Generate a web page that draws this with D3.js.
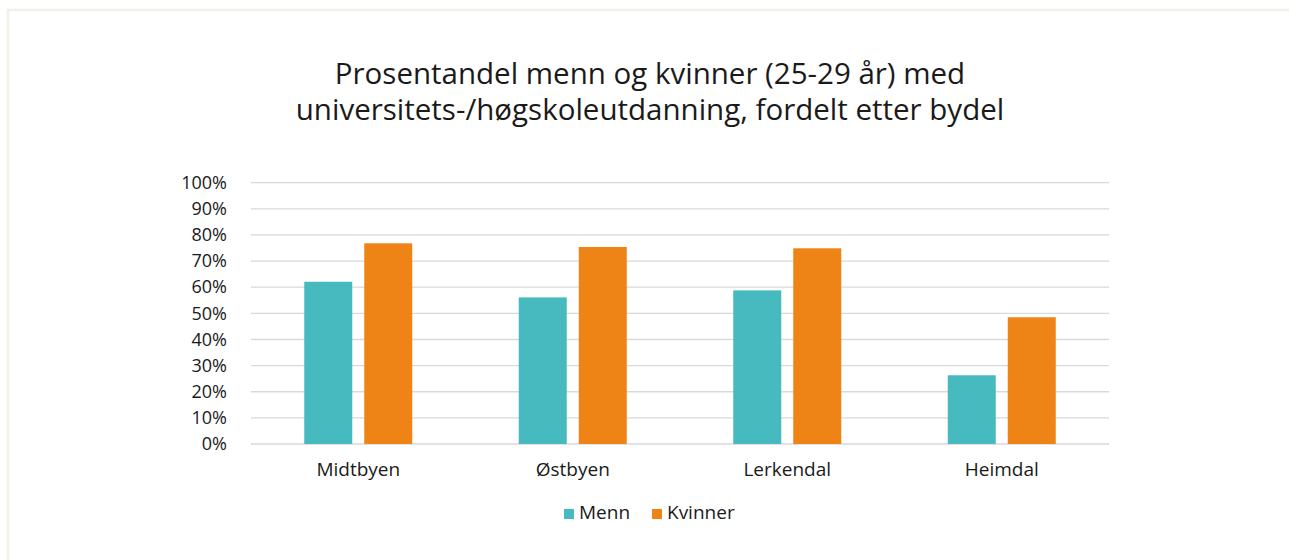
<!DOCTYPE html>
<html>
<head>
<meta charset="utf-8">
<script src="https://cdn.jsdelivr.net/npm/d3@7"></script>
<style>
  html, body { margin: 0; padding: 0; background: #fff; }
  svg { display: block; font-family: "Open Sans", sans-serif; }
</style>
</head>
<body>
<svg id="chart" width="1289" height="560"></svg>
<script>
const categories = ["Midtbyen", "Østbyen", "Lerkendal", "Heimdal"];
const seriesNames = ["Menn", "Kvinner"];
const menn = [62.1, 56.1, 58.8, 26.3];
const kvinner = [76.8, 75.4, 74.9, 48.5];
const yTicks = [0, 10, 20, 30, 40, 50, 60, 70, 80, 90, 100];
const colors = ["#47BABF", "#EE8316"];
const titleLines = ["Prosentandel menn og kvinner (25-29 år) med", "universitets-/høgskoleutdanning, fordelt etter bydel"];

const svg = d3.select("#chart");

// outer border
svg.append("rect").attr("x", 8).attr("y", 10).attr("width", 1290).attr("height", 560)
  .attr("fill", "#fff").attr("stroke", "#f3f0ea").attr("stroke-width", 2.5);

const plotLeft = 251, plotRight = 1109, plotTop = 182.7, plotBottom = 444;

const x = d3.scaleBand().domain(categories).range([plotLeft, plotRight]);
const x1 = d3.scaleBand().domain(seriesNames).range([0, 108]).paddingInner(0.2);
const y = d3.scaleLinear().domain([0, 100]).range([plotBottom, plotTop]);

// title
svg.append("text").attr("x", 650).attr("text-anchor", "middle")
  .attr("font-size", 29.5).attr("fill", "#1a1a1a")
  .selectAll("tspan").data(titleLines).join("tspan")
  .attr("x", 650).attr("y", (d, i) => 84 + i * 36).text(d => d);

// gridlines
svg.append("g").selectAll("line").data(yTicks).join("line")
  .attr("x1", plotLeft).attr("x2", plotRight)
  .attr("y1", d => y(d)).attr("y2", d => y(d))
  .attr("stroke", "#d9d9d9").attr("stroke-width", 1.3);

// y axis
const yAxis = d3.axisLeft(y).tickValues(yTicks).tickFormat(d => d + "%").tickSize(0).tickPadding(24);
const gy = svg.append("g").attr("transform", `translate(${plotLeft},0)`).call(yAxis);
gy.select(".domain").remove();
gy.selectAll("text").attr("font-size", 18).attr("fill", "#1a1a1a").attr("font-family", "Open Sans, sans-serif");

// bars
const data = categories.map((c, i) => ({ cat: c, vals: [menn[i], kvinner[i]] }));
const groups = svg.append("g").selectAll("g").data(data).join("g")
  .attr("transform", d => `translate(${x(d.cat) + x.bandwidth() / 2 - 54},0)`);
groups.selectAll("rect").data(d => d.vals.map((v, j) => ({ s: seriesNames[j], v, j })))
  .join("rect")
  .attr("x", d => x1(d.s)).attr("width", x1.bandwidth())
  .attr("y", d => y(d.v)).attr("height", d => y(0) - y(d.v))
  .attr("fill", d => colors[d.j]);

// x axis
const xAxis = d3.axisBottom(x).tickSize(0).tickPadding(18.5);
const gx = svg.append("g").attr("transform", `translate(0,${plotBottom})`).call(xAxis);
gx.select(".domain").remove();
gx.selectAll("text").attr("font-size", 19).attr("fill", "#1a1a1a").attr("font-family", "Open Sans, sans-serif");

// legend
const legendX = [564, 652];
const lg = svg.append("g").selectAll("g").data(seriesNames).join("g")
  .attr("transform", (d, i) => `translate(${legendX[i]},509)`);
lg.append("rect").attr("width", 10).attr("height", 10).attr("fill", (d, i) => colors[i]);
lg.append("text").attr("x", 15).attr("y", 9.5).attr("font-size", 19).attr("fill", "#1a1a1a").text(d => d);
</script>
</body>
</html>
